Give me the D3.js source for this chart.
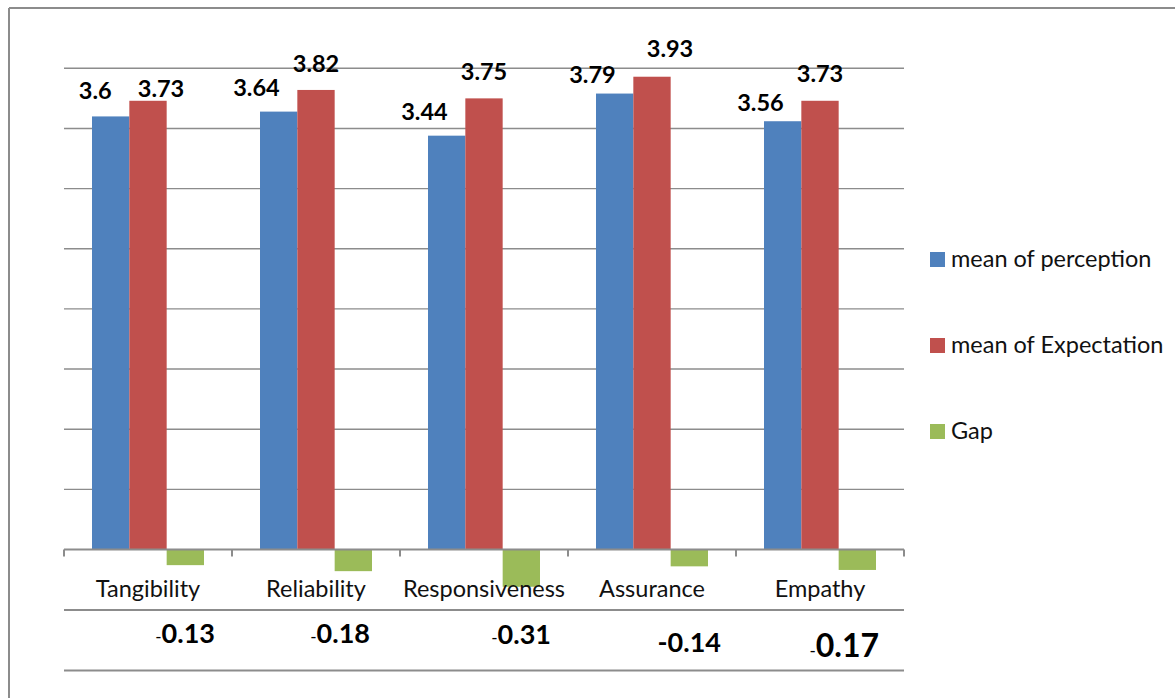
<!DOCTYPE html>
<html>
<head>
<meta charset="utf-8">
<script src="https://cdn.jsdelivr.net/npm/d3@7"></script>
<style>
  html, body { margin: 0; padding: 0; background: #fff; }
  svg { display: block; font-family: Lato, "Open Sans", sans-serif; }
</style>
</head>
<body>
<svg id="chart" width="1175" height="698"></svg>
<script>
// Service-quality dimensions and their means
const categories = ["Tangibility", "Reliability", "Responsiveness", "Assurance", "Empathy"];
const perception = [3.6, 3.64, 3.44, 3.79, 3.56];
const expectation = [3.73, 3.82, 3.75, 3.93, 3.73];
const gap = [-0.13, -0.18, -0.31, -0.14, -0.17];
const seriesNames = ["mean of perception", "mean of Expectation", "Gap"];
const gridValues = [0.5, 1, 1.5, 2, 2.5, 3, 3.5, 4];

// Layout
const plot = { left: 64, right: 904, zeroY: 549.5, topY: 68.3 };
const colors = ["#4F81BD", "#C0504D", "#9BBB59"];
const lineGray = "#8c8c8c";
const textSize = 23.5;
const valueSize = 23.5;

// Hand-placed label offsets (px, relative to the default spot)
const perceptionLabelDy = [-17, -16, -16, -11, -10.5];
const expectationLabelShift = [[13, -4], [0, -18], [0, -18], [18, -20], [0, -19]];
const gapLabelShift = [[11, 643], [-2, 643], [11, 643.5], [13, 652], [3, 657]];
const gapLabelBig = [false, false, false, false, true];
const gapMinusBold = [false, false, false, true, false];

const svg = d3.select("#chart");

const x = d3.scaleBand().domain(categories).range([plot.left, plot.right]).padding(0);
const B = x.bandwidth();
const barW = B / 4.5;
const x1 = d3.scaleBand().domain(seriesNames)
  .range([(B - 3 * barW) / 2, (B + 3 * barW) / 2]).padding(0);
const y = d3.scaleLinear().domain([0, 4]).range([plot.zeroY, plot.topY]);

// Outer frame (top and left edges)
svg.append("line").attr("x1", 9).attr("x2", 1175).attr("y1", 8).attr("y2", 8)
  .attr("stroke", lineGray).attr("stroke-width", 2);
svg.append("line").attr("x1", 9).attr("x2", 9).attr("y1", 8).attr("y2", 698)
  .attr("stroke", lineGray).attr("stroke-width", 2);

// Horizontal gridlines
svg.append("g").selectAll("line").data(gridValues).join("line")
  .attr("x1", plot.left).attr("x2", plot.right)
  .attr("y1", d => y(d)).attr("y2", d => y(d))
  .attr("stroke", lineGray).attr("stroke-width", 1.4);

// Bars
const rows = categories.map((c, i) => ({
  cat: c, i, vals: [perception[i], expectation[i], gap[i]]
}));
const groups = svg.append("g").selectAll("g").data(rows).join("g")
  .attr("transform", d => `translate(${x(d.cat)},0)`);
groups.selectAll("rect").data(d => d.vals.map((v, k) => ({ v, k, name: seriesNames[k] })))
  .join("rect")
  .attr("x", d => x1(d.name))
  .attr("width", x1.bandwidth())
  .attr("y", d => Math.min(y(d.v), y(0)))
  .attr("height", d => Math.abs(y(d.v) - y(0)))
  .attr("fill", d => colors[d.k]);

// Category axis with ticks on the band boundaries
const axis = svg.append("g");
axis.append("line").attr("x1", plot.left).attr("x2", plot.right)
  .attr("y1", y(0)).attr("y2", y(0)).attr("stroke", lineGray).attr("stroke-width", 2);
const boundaries = categories.map(c => x(c)).concat([x(categories[categories.length - 1]) + B]);
axis.selectAll("line.tick").data(boundaries).join("line").attr("class", "tick")
  .attr("x1", d => d).attr("x2", d => d)
  .attr("y1", y(0)).attr("y2", y(0) + 7)
  .attr("stroke", lineGray).attr("stroke-width", 2);
axis.selectAll("text").data(categories).join("text")
  .attr("x", d => x(d) + B / 2).attr("y", 597)
  .attr("text-anchor", "middle").attr("font-size", textSize).attr("fill", "#111")
  .text(d => d);

// Value labels above perception and expectation bars
const fmt = d3.format("");
svg.append("g").selectAll("text").data(rows).join("text")
  .attr("x", d => x(d.cat) + x1(seriesNames[0]) + barW / 2 + 1)
  .attr("y", d => y(perception[d.i]) + perceptionLabelDy[d.i])
  .attr("text-anchor", "end").attr("font-size", valueSize).attr("font-weight", 700)
  .text(d => fmt(perception[d.i]));
svg.append("g").selectAll("text").data(rows).join("text")
  .attr("x", d => x(d.cat) + x1(seriesNames[1]) + barW / 2 + expectationLabelShift[d.i][0])
  .attr("y", d => y(expectation[d.i]) + expectationLabelShift[d.i][1])
  .attr("text-anchor", "middle").attr("font-size", valueSize).attr("font-weight", 700)
  .text(d => fmt(expectation[d.i]));

// Gap row beneath the category names
[610, 670.5].forEach(yy => {
  svg.append("line").attr("x1", plot.left).attr("x2", plot.right)
    .attr("y1", yy).attr("y2", yy).attr("stroke", lineGray).attr("stroke-width", 2);
});
const gapText = svg.append("g").selectAll("text").data(rows).join("text")
  .attr("x", d => x(d.cat) + x1(seriesNames[2]) + barW + gapLabelShift[d.i][0])
  .attr("y", d => gapLabelShift[d.i][1])
  .attr("text-anchor", "end");
gapText.append("tspan")
  .attr("font-size", d => gapMinusBold[d.i] ? 27 : 17)
  .attr("font-weight", d => gapMinusBold[d.i] ? 700 : 400)
  .text("-");
gapText.append("tspan")
  .attr("font-size", d => gapLabelBig[d.i] ? 32 : 27)
  .attr("font-weight", 700)
  .text(d => d3.format(".2f")(Math.abs(gap[d.i])));

// Legend
const legend = svg.append("g").selectAll("g").data(seriesNames).join("g")
  .attr("transform", (d, k) => `translate(930, ${252 + k * 86})`);
legend.append("rect").attr("width", 15).attr("height", 15)
  .attr("fill", (d, k) => colors[k]);
legend.append("text").attr("x", 21).attr("y", 14.5)
  .attr("font-size", textSize).attr("fill", "#111").text(d => d);
</script>
</body>
</html>
